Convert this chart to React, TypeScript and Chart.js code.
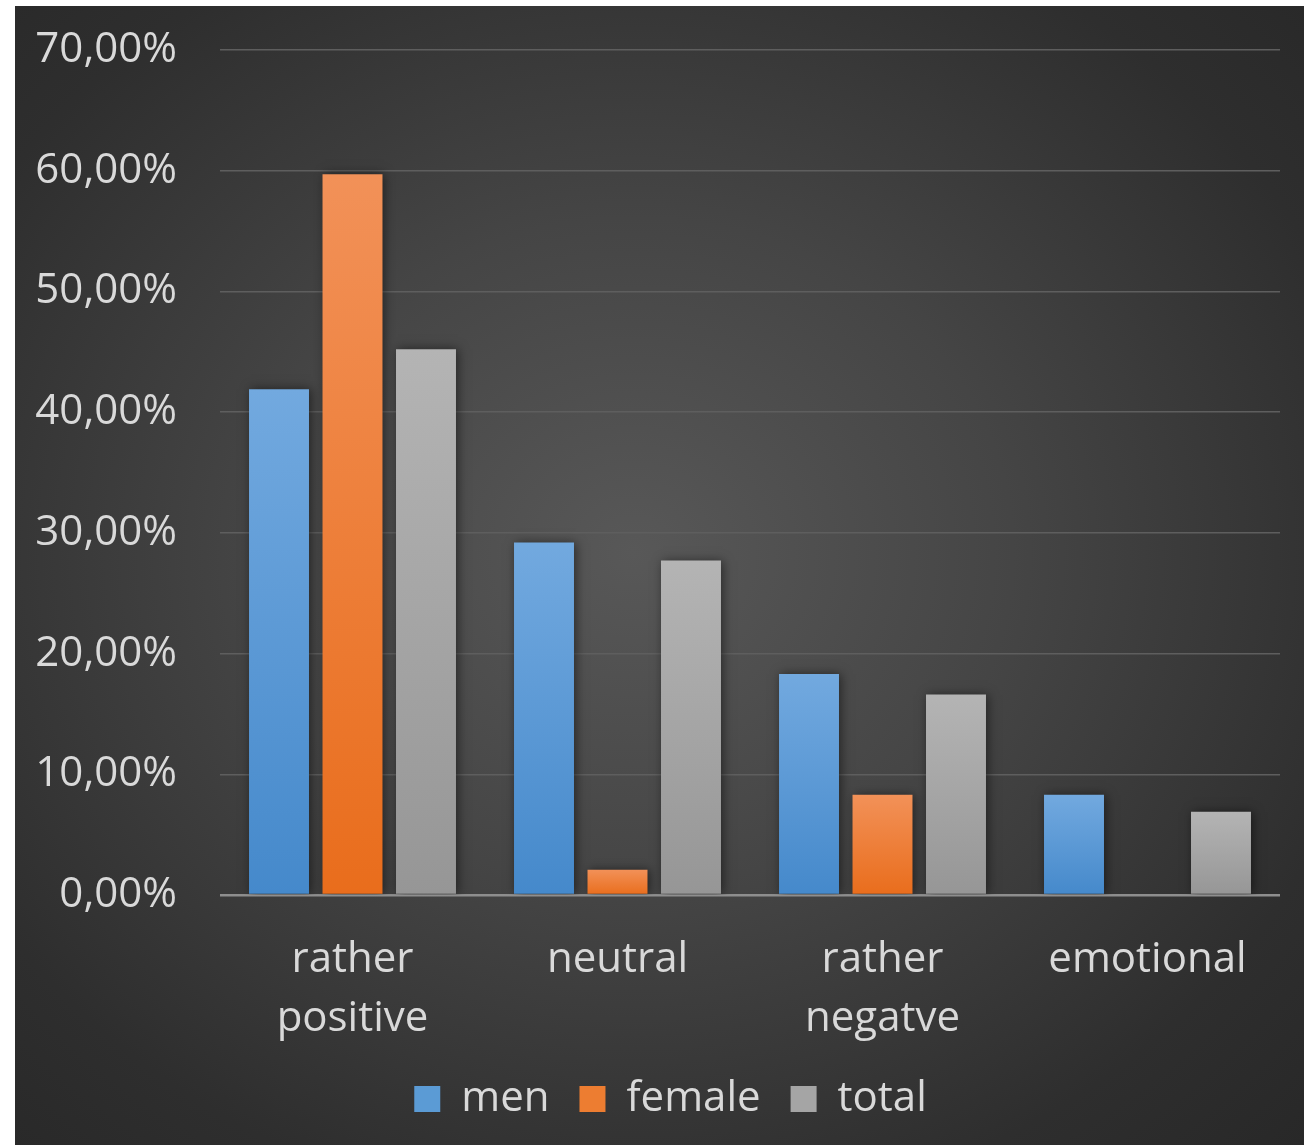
import React, { useEffect, useRef } from "react";
import { Chart, registerables } from "chart.js";

Chart.register(...registerables);

const categories: string[][] = [["rather", "positive"], ["neutral"], ["rather", "negatve"], ["emotional"]];
const seriesNames = ["men", "female", "total"];
const menValues = [41.9, 29.2, 18.3, 8.3];
const femaleValues = [59.7, 2.1, 8.3, 0];
const totalValues = [45.2, 27.7, 16.6, 6.9];
const yTicks = [0, 10, 20, 30, 40, 50, 60, 70];

const colorsTop = ["#72a9df", "#f29158", "#b4b4b4"];
const colorsBottom = ["#4589cb", "#e96d1c", "#969696"];
const colorsMid = ["#5b9bd5", "#ed7d31", "#a5a5a5"];

const FONT = "'Open Sans', 'Noto Sans', sans-serif";
const TEXT = "#d9d9d9";

function makeBg(i: number) {
  return (ctx: any) => {
    const chart = ctx.chart;
    const area = chart.chartArea;
    if (!area || ctx.type !== "data") return colorsMid[i];
    const y = chart.scales.y;
    const v = Number(ctx.raw);
    const top = y.getPixelForValue(v);
    const base = y.getPixelForValue(0);
    if (!isFinite(top) || !isFinite(base) || Math.abs(base - top) < 1) return colorsMid[i];
    const g = chart.ctx.createLinearGradient(0, top, 0, base);
    g.addColorStop(0, colorsTop[i]);
    g.addColorStop(1, colorsBottom[i]);
    return g;
  };
}

const shadowPlugin = {
  id: "barShadow",
  beforeDatasetsDraw(chart: any) {
    const c = chart.ctx;
    c.save();
    c.shadowColor = "rgba(0,0,0,0.5)";
    c.shadowBlur = 10;
    c.shadowOffsetX = 2;
    c.shadowOffsetY = 0;
  },
  afterDatasetsDraw(chart: any) {
    chart.ctx.restore();
  },
};

const legendShiftPlugin = {
  id: "legendShift",
  afterLayout(chart: any) {
    const lg = chart.legend;
    if (lg) {
      lg.left += 23;
      lg.right += 23;
    }
  },
};

export default function App() {
  const ref = useRef<HTMLCanvasElement | null>(null);
  useEffect(() => {
    if (!ref.current) return;
    const values = [menValues, femaleValues, totalValues];
    const chart = new Chart(ref.current, {
      type: "bar",
      data: {
        labels: categories as any,
        datasets: seriesNames.map((name, i) => ({
          label: name,
          data: values[i],
          backgroundColor: makeBg(i),
          borderWidth: 0,
          categoryPercentage: 0.832,
          barPercentage: 0.816,
        })),
      },
      options: {
        animation: false,
        responsive: false,
        maintainAspectRatio: false,
        layout: { padding: { top: 44, right: 24, left: 0, bottom: 15 } },
        plugins: {
          tooltip: { enabled: false },
          legend: {
            position: "bottom",
            labels: {
              color: TEXT,
              font: { family: FONT, size: 42 },
              boxWidth: 26,
              boxHeight: 26,
              padding: 30,
              generateLabels: () =>
                seriesNames.map((n, i) => ({
                  text: n,
                  fillStyle: colorsMid[i],
                  strokeStyle: colorsMid[i],
                  lineWidth: 0,
                  fontColor: TEXT,
                  hidden: false,
                  datasetIndex: i,
                })),
            },
          },
        },
        scales: {
          x: {
            grid: { display: false },
            border: { display: false },
            afterFit: (s: any) => {
              s.height = 153;
            },
            ticks: {
              color: TEXT,
              font: { family: FONT, size: 42, lineHeight: 1.4 },
              padding: 28,
              maxRotation: 0,
              autoSkip: false,
            },
          },
          y: {
            min: 0,
            max: 70,
            afterFit: (s: any) => {
              s.width = 205;
              s.paddingTop = 0;
              s.paddingBottom = 0;
            },
            afterBuildTicks: (s: any) => {
              s.ticks = yTicks.map((v) => ({ value: v }));
            },
            border: { display: false },
            grid: {
              drawTicks: false,
              color: (c: any) => (c.tick && c.tick.value === 0 ? "#8e8e8e" : "#5e5e5e"),
              lineWidth: (c: any) => (c.tick && c.tick.value === 0 ? 2.5 : 1.5),
            },
            ticks: {
              color: TEXT,
              font: { family: FONT, size: 42 },
              padding: 43,
              callback: (v: any) => Number(v).toFixed(2).replace(".", ",") + "%",
            },
          },
        },
      },
      plugins: [shadowPlugin, legendShiftPlugin],
    });
    return () => chart.destroy();
  }, []);

  return (
    <div style={{ position: "fixed", left: 0, top: 0, width: 1304, height: 1145, background: "#ffffff" }}>
      <canvas
        ref={ref}
        width={1289}
        height={1139}
        style={{
          position: "absolute",
          left: 15,
          top: 6,
          width: 1289,
          height: 1139,
          background: "radial-gradient(ellipse at 48% 48%, #585858 0%, #454545 40%, #2e2e2e 80%, #282828 100%)",
        }}
      />
    </div>
  );
}
